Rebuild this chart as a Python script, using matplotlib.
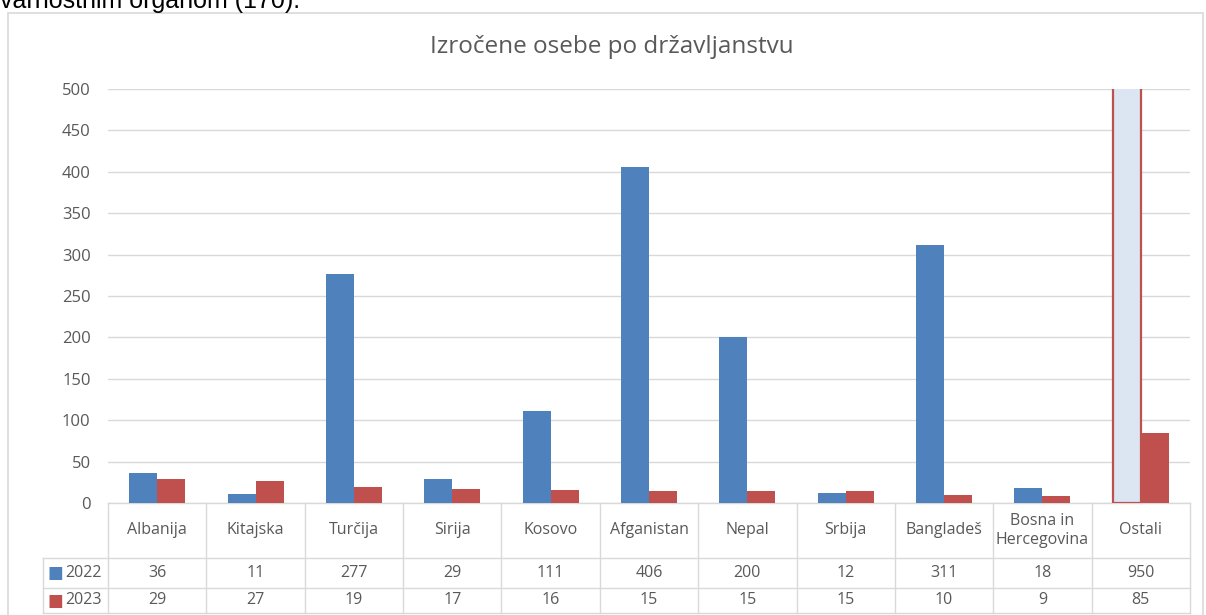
import matplotlib.pyplot as plt
from matplotlib.patches import Rectangle
import numpy as np

plt.rcParams['font.family'] = ['Open Sans', 'DejaVu Sans']

# data
countries = ['Albanija', 'Kitajska', 'Turčija', 'Sirija', 'Kosovo', 'Afganistan',
             'Nepal', 'Srbija', 'Bangladeš', 'Bosna in\nHercegovina', 'Ostali']
v2022 = [36, 11, 277, 29, 111, 406, 200, 12, 311, 18, 950]
v2023 = [29, 27, 19, 17, 16, 15, 15, 15, 10, 9, 85]
years = ['2022', '2023']
yticks = list(range(0, 501, 50))

blue = '#4F81BD'
red = '#C0504D'
grid_c = '#D9D9D9'
txt_c = '#595959'

W, H = 1206, 615
fig = plt.figure(figsize=(W / 100, H / 100), dpi=100)

# pixel helpers (from top-left)
def fx(px):
    return px / W

def fy(py):
    return 1 - py / H

ax_l, ax_r, ax_t, ax_b = 108, 1190, 89, 503
ax = fig.add_axes([fx(ax_l), fy(ax_b), fx(ax_r) - fx(ax_l), fy(ax_t) - fy(ax_b)])

# outer chart frame
fig.patches.append(Rectangle((fx(8), -0.01), fx(1203) - fx(8), fy(13) + 0.01,
                             transform=fig.transFigure, fill=False,
                             edgecolor=grid_c, linewidth=1.2))

# cut-off line of text from the page above
fig.text(0, fy(8), 'varnostnim organom (170).', fontsize=18, color='black',
         va='baseline', ha='left', family='Liberation Sans')

x = np.arange(len(countries))
bw = 0.285
b1 = ax.bar(x - bw / 2, v2022, bw, color=blue, zorder=3)
ax.bar(x + bw / 2, v2023, bw, color=red, zorder=3)

# the off-scale "Ostali" bar is highlighted
last = b1[-1]
last.set_facecolor('#DCE6F2')
last.set_edgecolor(red)
last.set_linewidth(1.6)

ax.set_xlim(-0.5, len(countries) - 0.5)
ax.set_ylim(0, 500)
ax.set_yticks(yticks)
ax.set_xticks([])
ax.yaxis.grid(True, color=grid_c, linewidth=1)
ax.set_axisbelow(True)
ax.tick_params(axis='y', length=0, pad=12.5, labelsize=12, labelcolor=txt_c)
for s in ax.spines.values():
    s.set_visible(False)

fig.text(fx(612), fy(47), 'Izročene osebe po državljanstvu', fontsize=17.5,
         color=txt_c, ha='center', va='center')

# data table below the axes
axh = ax_b - ax_t
def ay(py):
    return (ax_b - py) / axh

r0, r1, r2, r3 = ay(503), ay(558), ay(588), ay(613)
lx = (43 - ax_l) / (ax_r - ax_l) * len(countries) - 0.5
xr = len(countries) - 0.5
tr = ax.get_xaxis_transform()
lk = dict(color=grid_c, linewidth=1, transform=tr, clip_on=False)
ax.plot([-0.5, xr], [r0, r0], **lk)
for yy in (r1, r2, r3):
    ax.plot([lx, xr], [yy, yy], **lk)
ax.plot([lx, lx], [r1, r3], **lk)
for i in range(len(countries) + 1):
    ax.plot([i - 0.5, i - 0.5], [r0, r3], **lk)

tk = dict(transform=tr, ha='center', va='center', fontsize=11.5, color=txt_c,
          clip_on=False)
for i, c in enumerate(countries):
    ax.text(i, (r0 + r1) / 2, c, linespacing=1.25, **tk)
    ax.text(i, (r1 + r2) / 2, str(v2022[i]), **tk)
    ax.text(i, (r2 + r3) / 2, str(v2023[i]), **tk)

for yr, col, (ya, yb) in zip(years, [blue, red], [(r1, r2), (r2, r3)]):
    ym = (ya + yb) / 2
    ax.text(lx + 0.05, ym, '■', transform=tr, ha='left', va='center',
            fontsize=12, color=col, clip_on=False, family='DejaVu Sans')
    ax.text(lx + 0.23, ym, yr, transform=tr, ha='left', va='center',
            fontsize=11.5, color=txt_c, clip_on=False)

fig.savefig('out.png', dpi=100)
